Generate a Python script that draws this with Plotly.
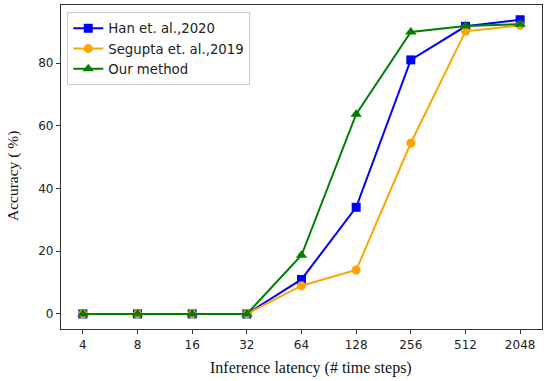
import plotly.graph_objects as go

steps = ["4", "8", "16", "32", "64", "128", "256", "512", "2048"]
han = [0, 0, 0, 0, 11, 34, 81, 91.7, 93.8]
segupta = [0, 0, 0, 0, 9, 14, 54.5, 90.1, 92]
ours = [0, 0, 0, 0, 18.7, 63.7, 89.9, 91.8, 92.4]

x_title = "Inference latency (# time steps)"
y_title = "Accuracy ( %)"

fig = go.Figure()
fig.add_trace(go.Scatter(x=steps, y=han, name="Han et. al.,2020", mode="lines+markers",
                         line=dict(color="#0000ff", width=2),
                         marker=dict(symbol="square", size=9, color="#0000ff")))
fig.add_trace(go.Scatter(x=steps, y=segupta, name="Segupta et. al.,2019", mode="lines+markers",
                         line=dict(color="#ffa500", width=2),
                         marker=dict(symbol="circle", size=9, color="#ffa500")))
fig.add_trace(go.Scatter(x=steps, y=ours, name="Our method", mode="lines+markers",
                         line=dict(color="#008000", width=2),
                         marker=dict(symbol="triangle-up", size=10, color="#008000")))

fig.update_layout(
    width=550, height=381,
    margin=dict(l=61, r=8, t=5, b=52),
    paper_bgcolor="white", plot_bgcolor="white",
    showlegend=True,
    legend=dict(x=0.013, y=0.978, xanchor="left", yanchor="top",
                bgcolor="rgba(255,255,255,0.8)", bordercolor="#cccccc", borderwidth=1,
                font=dict(family="DejaVu Sans", size=13.3, color="#222"),
                tracegroupgap=0),
    xaxis=dict(type="category", range=[-0.4, 8.4], showgrid=False, zeroline=False,
               automargin=False,
               showline=True, linecolor="#333", linewidth=1.2, mirror=True,
               ticks="outside", ticklen=4, tickcolor="#333",
               tickfont=dict(family="DejaVu Sans", size=12, color="#222")),
    yaxis=dict(range=[-4.8, 98.5], tickvals=[0, 20, 40, 60, 80], showgrid=False, zeroline=False,
               automargin=False,
               showline=True, linecolor="#333", linewidth=1.2, mirror=True,
               ticks="outside", ticklen=4, tickcolor="#333",
               tickfont=dict(family="DejaVu Sans", size=12, color="#222")),
    annotations=[
        dict(text=x_title, xref="paper", yref="paper", x=0.52, y=-0.12,
             xanchor="center", yanchor="middle", showarrow=False,
             font=dict(family="Liberation Serif", size=16, color="#111")),
        dict(text=y_title, xref="paper", yref="paper", x=-0.0998, y=0.472,
             xanchor="center", yanchor="middle", showarrow=False, textangle=-90,
             font=dict(family="Liberation Serif", size=15.5, color="#111")),
    ],
)

fig.write_html("out.html", config={"displayModeBar": False},
               post_script="document.body.style.margin='0';")
